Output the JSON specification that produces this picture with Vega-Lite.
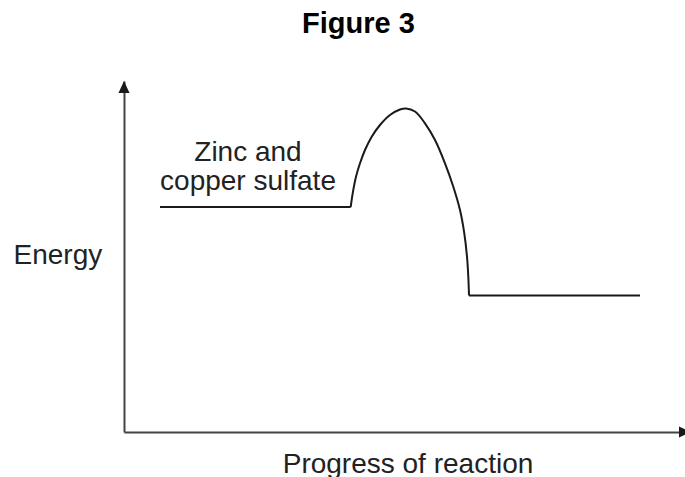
{
  "$schema": "https://vega.github.io/schema/vega-lite/v6.json",
  "width": 561,
  "height": 351,
  "autosize": {"type": "none"},
  "padding": {"left": 124, "top": 81, "right": 0, "bottom": 45},
  "background": "white",
  "config": {"view": {"stroke": null}, "font": "Liberation Sans"},
  "title": {
    "text": "Figure 3",
    "font": "Liberation Sans",
    "fontSize": 29,
    "fontWeight": "bold",
    "color": "#000000",
    "anchor": "middle",
    "dx": -46,
    "offset": 42
  },
  "datasets": {
    "flats": [
      {"progress": 36, "energy": 225, "segment": "reactants"},
      {"progress": 226.7, "energy": 225, "segment": "reactants"},
      {"progress": 345, "energy": 136.5, "segment": "products"},
      {"progress": 516, "energy": 136.5, "segment": "products"}
    ],
    "arc": [
      {"progress": 226.7, "energy": 225},
      {"progress": 228.7, "energy": 238.7},
      {"progress": 232, "energy": 255.3},
      {"progress": 236, "energy": 268.7},
      {"progress": 241, "energy": 282},
      {"progress": 247.7, "energy": 295.3},
      {"progress": 256, "energy": 307},
      {"progress": 266, "energy": 317},
      {"progress": 276, "energy": 322.5},
      {"progress": 282, "energy": 323.6},
      {"progress": 291, "energy": 320.5},
      {"progress": 301, "energy": 308.7},
      {"progress": 311, "energy": 292},
      {"progress": 321, "energy": 268.7},
      {"progress": 329.3, "energy": 245.3},
      {"progress": 336, "energy": 222},
      {"progress": 340.3, "energy": 198.7},
      {"progress": 343, "energy": 175.3},
      {"progress": 344.3, "energy": 155.3},
      {"progress": 345, "energy": 136.5}
    ],
    "arrows": [
      {"progress": 0, "energy": 345, "dir": "up"},
      {"progress": 561, "energy": 0, "dir": "right"}
    ],
    "labels": [
      {"progress": 124, "energy": 271.3, "text": ["Zinc and", "copper sulfate"]}
    ]
  },
  "layer": [
    {
      "data": {"name": "flats"},
      "mark": {"type": "line", "interpolate": "linear", "color": "#1a1a1a", "strokeWidth": 2},
      "encoding": {
        "detail": {"field": "segment", "type": "nominal"},
        "x": {
          "field": "progress",
          "type": "quantitative",
          "scale": {"domain": [0, 561], "nice": false, "zero": false},
          "axis": {
            "orient": "bottom",
            "domain": true,
            "domainColor": "#444444",
            "domainWidth": 2,
            "ticks": false,
            "labels": false,
            "grid": false,
            "title": "Progress of reaction",
            "titleFont": "Liberation Sans",
            "titleFontSize": 28,
            "titleFontWeight": "normal",
            "titleColor": "#222222",
            "titleAlign": "center",
            "titleBaseline": "alphabetic",
            "titleX": 283.5,
            "titleY": 40
          }
        },
        "y": {
          "field": "energy",
          "type": "quantitative",
          "scale": {"domain": [0, 351], "nice": false, "zero": false},
          "axis": {
            "orient": "left",
            "domain": true,
            "domainColor": "#444444",
            "domainWidth": 2,
            "ticks": false,
            "labels": false,
            "grid": false,
            "title": "Energy",
            "titleFont": "Liberation Sans",
            "titleFontSize": 28,
            "titleFontWeight": "normal",
            "titleColor": "#222222",
            "titleAngle": 0,
            "titleAlign": "left",
            "titleBaseline": "alphabetic",
            "titleX": -111,
            "titleY": 182
          }
        }
      }
    },
    {
      "data": {"name": "arc"},
      "mark": {"type": "line", "interpolate": "catmull-rom", "color": "#1a1a1a", "strokeWidth": 2},
      "encoding": {
        "x": {"field": "progress", "type": "quantitative"},
        "y": {"field": "energy", "type": "quantitative"}
      }
    },
    {
      "data": {"name": "arrows"},
      "mark": {"type": "point", "filled": true, "color": "#1a1a1a", "opacity": 1, "size": 144},
      "encoding": {
        "x": {"field": "progress", "type": "quantitative"},
        "y": {"field": "energy", "type": "quantitative"},
        "shape": {
          "field": "dir",
          "type": "nominal",
          "scale": {"domain": ["up", "right"], "range": ["M0,-1L-0.92,1L0.92,1Z", "M1,0L-1,-0.92L-1,0.92Z"]},
          "legend": null
        }
      }
    },
    {
      "data": {"name": "labels"},
      "mark": {"type": "text", "font": "Liberation Sans", "fontSize": 28, "color": "#222222", "align": "center", "baseline": "alphabetic", "lineHeight": 29.5},
      "encoding": {
        "x": {"field": "progress", "type": "quantitative"},
        "y": {"field": "energy", "type": "quantitative"},
        "text": {"field": "text"}
      }
    }
  ]
}
